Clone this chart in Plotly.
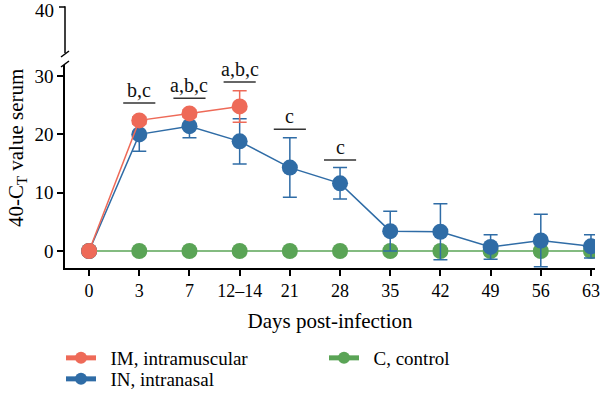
import plotly.graph_objects as go

days = ["0", "3", "7", "12–14", "21", "28", "35", "42", "49", "56", "63"]

im_days = ["0", "3", "7", "12–14"]
im_vals = [0, 22.4, 23.6, 24.8]
im_err = [0, 0.6, 0.6, 2.7]

in_vals = [0, 20.0, 21.4, 18.8, 14.3, 11.6, 3.4, 3.3, 0.7, 1.8, 0.8]
in_err = [0, 2.9, 2.0, 3.9, 5.1, 2.7, 3.4, 4.8, 2.1, 4.5, 2.0]

c_vals = [0] * 11

lower_ticks = [0, 10, 20, 30]
upper_ticks = [40]   # tick of the upper segment above the axis break

sig_days = ["3", "7", "12–14", "21", "28"]
sig_labels = ["b,c", "a,b,c", "a,b,c", "c", "c"]
sig_levels = [25.4, 26.2, 29.0, 20.9, 15.6]

RED = "#EE6A58"
BLUE = "#2F6CA6"
GREEN = "#5AA456"
FONT = "Liberation Serif"
W, H = 600, 395
ML, MR, MT, MB = 65, 5, 5, 127
PW, PH = W - ML - MR, H - MT - MB


def px_x(x):
    return (x - ML) / PW


def px_y(y):
    return (H - MB - y) / PH


fig = go.Figure()
fig.add_trace(go.Scatter(
    x=days, y=c_vals, name="&nbsp;&nbsp;C, control", mode="lines+markers",
    line=dict(color=GREEN, width=1.5), marker=dict(size=16, color=GREEN),
    legend="legend3"))
fig.add_trace(go.Scatter(
    x=days, y=in_vals, name="&nbsp;&nbsp;IN, intranasal", mode="lines+markers",
    line=dict(color=BLUE, width=1.5), marker=dict(size=16, color=BLUE),
    error_y=dict(type="data", array=in_err, color=BLUE, thickness=1.5, width=7),
    legend="legend2"))
fig.add_trace(go.Scatter(
    x=im_days, y=im_vals, name="&nbsp;&nbsp;IM, intramuscular", mode="lines+markers",
    line=dict(color=RED, width=1.5), marker=dict(size=16, color=RED),
    error_y=dict(type="data", array=im_err, color=RED, thickness=1.5, width=7),
    legend="legend"))

shapes = []
annotations = []
for d, lab, lev in zip(sig_days, sig_labels, sig_levels):
    i = days.index(d)
    shapes.append(dict(type="line", xref="x", yref="y", x0=i - 0.32, x1=i + 0.32,
                       y0=lev, y1=lev, line=dict(color="#333333", width=1.5)))
    annotations.append(dict(x=i, y=lev, xref="x", yref="y", text=lab, showarrow=False,
                            yanchor="bottom", yshift=0, font=dict(family=FONT, size=20, color="#111")))

# y-axis title (placed as annotation to match the reference position)
annotations.append(dict(x=px_x(17), y=px_y(148), xref="paper", yref="paper",
                        text="40-C<sub>T</sub> value serum", textangle=-90, showarrow=False,
                        xanchor="center", yanchor="middle", font=dict(family=FONT, size=21)))

# upper segment of the broken y axis (line, tick and label)
shapes.append(dict(type="line", xref="paper", yref="paper", x0=0, x1=0,
                   y0=px_y(53), y1=px_y(6.3), line=dict(color="black", width=1.5)))
for t in upper_ticks:
    shapes.append(dict(type="line", xref="paper", yref="paper", x0=px_x(59), x1=0,
                       y0=px_y(7), y1=px_y(7), line=dict(color="black", width=1.5)))
    annotations.append(dict(x=px_x(56), y=px_y(10), xref="paper", yref="paper",
                            text=str(t), showarrow=False, xanchor="right", yanchor="middle",
                            font=dict(family=FONT, size=19)))

# axis break slashes
for yc in [54, 64]:
    shapes.append(dict(type="line", xref="paper", yref="paper",
                       x0=px_x(61), x1=px_x(69),
                       y0=px_y(yc + 3), y1=px_y(yc - 3),
                       line=dict(color="black", width=1.5)))

leg_common = dict(orientation="v", xref="paper", yref="paper",
                  xanchor="left", yanchor="middle", itemsizing="constant",
                  font=dict(size=19, family=FONT), bgcolor="rgba(0,0,0,0)")

fig.update_layout(
    width=W, height=H,
    margin=dict(l=ML, r=MR, t=MT, b=MB, autoexpand=False),
    paper_bgcolor="white", plot_bgcolor="white",
    font=dict(family=FONT, size=19, color="black"),
    xaxis=dict(type="category", categoryorder="array", categoryarray=days,
               range=[-0.48, 10.08], showline=True, linecolor="black", linewidth=1.5,
               ticks="outside", ticklen=6, tickwidth=1.5, tickcolor="black",
               showgrid=False, zeroline=False, tickfont=dict(size=18), automargin=False,
               title=dict(text="Days post-infection", font=dict(size=21), standoff=13)),
    yaxis=dict(domain=[0, px_y(65)], range=[-2.92, 31.9], tickvals=lower_ticks,
               showline=True, linecolor="black", linewidth=1.5,
               ticks="outside", ticklen=6, tickwidth=1.5, tickcolor="black",
               showgrid=False, zeroline=False, tickfont=dict(size=19), automargin=False),
    legend=dict(x=px_x(61), y=px_y(358), **leg_common),
    legend2=dict(x=px_x(61), y=px_y(379), **leg_common),
    legend3=dict(x=px_x(324), y=px_y(358), **leg_common),
    shapes=shapes, annotations=annotations, showlegend=True,
)

fig.write_html("out.html", config={"displayModeBar": False},
               post_script="document.body.style.margin='0';document.body.style.padding='0';")
